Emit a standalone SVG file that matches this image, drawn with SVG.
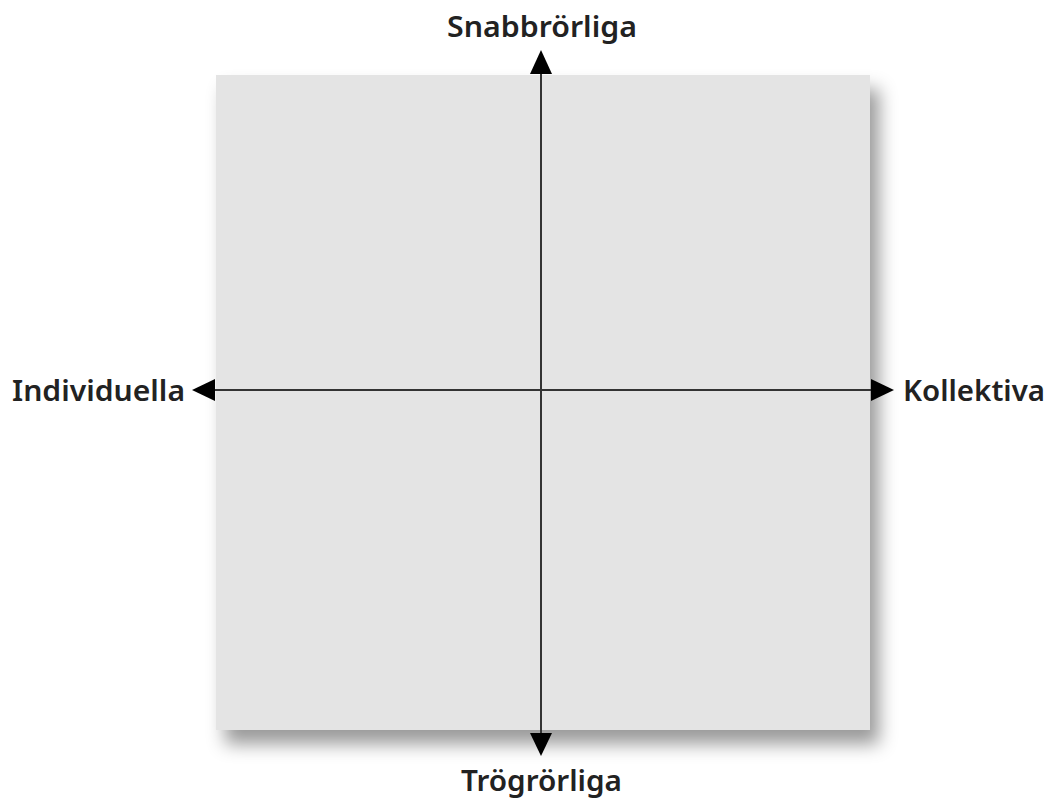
<svg xmlns="http://www.w3.org/2000/svg" width="1048" height="801" viewBox="0 0 1048 801">
<defs>
<filter id="sh" x="-10%" y="-10%" width="130%" height="130%">
<feDropShadow dx="9" dy="14" stdDeviation="9" flood-color="#000" flood-opacity="0.4"/>
</filter>
<style>
.lbl{font-family:"Noto Sans","Open Sans",sans-serif;font-size:29px;font-weight:600;fill:#222;}
.ax{stroke:#333;stroke-width:2;fill:none;}
.hd{fill:#000;}
</style>
</defs>
<rect width="1048" height="801" fill="#fff"/>
<g id="quadrant">
<rect x="216" y="75" width="654" height="655" fill="#e4e4e4" filter="url(#sh)"/>
</g>
<g id="connectors">
<line class="ax" x1="541" y1="70" x2="541" y2="738"/>
<line class="ax" x1="212" y1="390" x2="875" y2="390"/>
<path class="hd" d="M541,50 L552,74 L530,74 Z"/>
<path class="hd" d="M541,756 L552,733 L530,733 Z"/>
<path class="hd" d="M192,390 L215,379 L215,401 Z"/>
<path class="hd" d="M894,390 L871,379 L871,401 Z"/>
</g>
<g id="label-top"><text class="lbl" x="447" y="37" textLength="190" lengthAdjust="spacingAndGlyphs">Snabbrörliga</text></g>
<g id="label-bottom"><text class="lbl" x="461" y="791" textLength="161" lengthAdjust="spacingAndGlyphs">Trögrörliga</text></g>
<g id="label-left"><text class="lbl" x="12" y="401" textLength="173" lengthAdjust="spacingAndGlyphs">Individuella</text></g>
<g id="label-right"><text class="lbl" x="903" y="401" textLength="142" lengthAdjust="spacingAndGlyphs">Kollektiva</text></g>
</svg>
